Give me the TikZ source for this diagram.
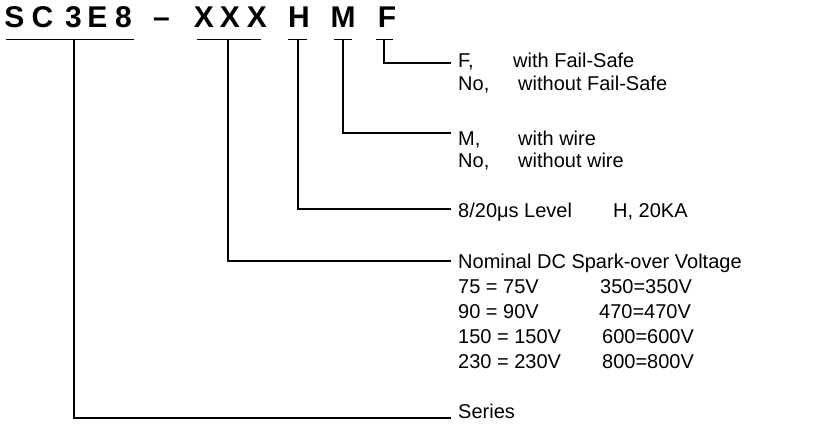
\documentclass[tikz,border=0pt]{standalone}
\usepackage{fontspec}
\setmainfont{Liberation Sans}
\begin{document}
\begin{tikzpicture}[x=1pt,y=-1pt,
  code/.style={inner sep=0pt,anchor=base,font=\fontsize{30}{33}\selectfont\bfseries},
  lbl/.style={inner sep=0pt,anchor=base west,font=\fontsize{20}{23}\selectfont},
  wire/.style={line width=1.3pt}]
\useasboundingbox (0,0) rectangle (835,444);
% code letters
\node[code] (cS) at (14.5,28) {S};
\node[code] (cC) at (42.5,28) {C};
\node[code] (c3) at (73.5,28) {3};
\node[code] (cE) at (97.5,28) {E};
\node[code] (c8) at (123.5,28) {8};
\node[code] (cd) at (161.5,28) {–};
\node[code] (cX1) at (204,28) {X};
\node[code] (cX2) at (230,28) {X};
\node[code] (cX3) at (257,28) {X};
\node[code] (cH) at (299,28) {H};
\node[code] (cM) at (343,28) {M};
\node[code] (cF) at (387,28) {F};
% underline bars
\coordinate (s1) at (6,39.5);   \coordinate (s2) at (134,39.5);  \coordinate (sv) at (74,39.5);
\coordinate (x1) at (197,39.5); \coordinate (x2) at (261,39.5);  \coordinate (xv) at (228,39.5);
\coordinate (h1) at (288,39.5); \coordinate (h2) at (307,39.5);  \coordinate (hv) at (298,39.5);
\coordinate (m1) at (334,39.5); \coordinate (m2) at (352,39.5);  \coordinate (mv) at (343,39.5);
\coordinate (f1) at (376,39.5); \coordinate (f2) at (393,39.5);  \coordinate (fv) at (384,39.5);
\draw[wire] (s1) -- (s2);
\draw[wire] (x1) -- (x2);
\draw[wire] (h1) -- (h2);
\draw[wire] (m1) -- (m2);
\draw[wire] (f1) -- (f2);
% connector ends
\coordinate (fe) at (451,63);
\coordinate (me) at (451,133);
\coordinate (he) at (451,209);
\coordinate (xe) at (451,261);
\coordinate (se) at (451,418);
\draw[wire] (fv) |- (fe);
\draw[wire] (mv) |- (me);
\draw[wire] (hv) |- (he);
\draw[wire] (xv) |- (xe);
\draw[wire] (sv) |- (se);
% labels
\node[lbl] (fA) at (458,67) {F,};
\node[lbl] (fB) at (513,67) {with Fail-Safe};
\node[lbl] (fC) at (458,90) {No,};
\node[lbl] (fD) at (518,90) {without Fail-Safe};
\node[lbl] (mA) at (458,145) {M,};
\node[lbl] (mB) at (518,145) {with wire};
\node[lbl] (mC) at (458,167) {No,};
\node[lbl] (mD) at (518,167) {without wire};
\node[lbl] (hA) at (458,217) {8/20μs Level};
\node[lbl] (hB) at (613,217) {H, 20KA};
\node[lbl] (vT) at (458,268) {Nominal DC Spark-over Voltage};
\node[lbl] (v1) at (458,293) {75 = 75V};
\node[lbl] (v2) at (458,318) {90 = 90V};
\node[lbl] (v3) at (458,343) {150 = 150V};
\node[lbl] (v4) at (458,368) {230 = 230V};
\node[lbl] (w1) at (600,293) {350=350V};
\node[lbl] (w2) at (599,318) {470=470V};
\node[lbl] (w3) at (602,343) {600=600V};
\node[lbl] (w4) at (602,368) {800=800V};
\node[lbl] (sA) at (458,418) {Series};
\end{tikzpicture}
\end{document}
